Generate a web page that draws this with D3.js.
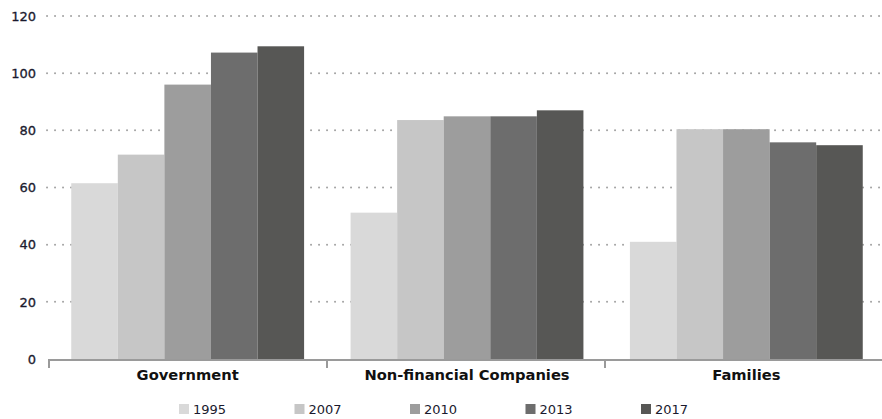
<!DOCTYPE html>
<html><head><meta charset="utf-8">
<script src="https://cdn.jsdelivr.net/npm/d3@7"></script>
<style>body{margin:0;background:#fff}svg{display:block;font-family:"DejaVu Sans",Verdana,sans-serif}</style>
</head><body><svg id="c" width="882" height="419"></svg>
<script>
const categories = ["Government", "Non-financial Companies", "Families"];
const years = ["1995", "2007", "2010", "2013", "2017"];
const colors = ["#d9d9d9", "#c6c6c6", "#9d9d9d", "#6d6d6d", "#575755"];
const v1995 = [61.5, 51.2, 41.0];
const v2007 = [71.5, 83.6, 80.4];
const v2010 = [96.0, 84.9, 80.4];
const v2013 = [107.2, 84.9, 75.8];
const v2017 = [109.4, 87.0, 74.8];
const yTicks = [0, 20, 40, 60, 80, 100, 120];
const series = [v1995, v2007, v2010, v2013, v2017];

(function () {
const svg = d3.select("#c");
const mL = 48, mR = 882, mT = 16, mB = 359;
const x0 = d3.scaleBand().domain(categories).range([48, 886]).paddingInner(0.1664).paddingOuter(0.0832);
const xOuter = d3.scaleBand().domain(categories).range([mL, mR]);
const x1 = d3.scaleBand().domain(years).range([0, x0.bandwidth()]);
const y = d3.scaleLinear().domain([0, 120]).range([mB, mT]);

// grid
svg.append("g").selectAll("line").data(yTicks.filter(d => d > 0)).join("line")
  .attr("x1", 47).attr("x2", 882).attr("y1", d => y(d)).attr("y2", d => y(d))
  .attr("stroke", "#a6a6a6").attr("stroke-width", 2).attr("stroke-dasharray", "0.1,7.9").attr("stroke-linecap", "round");

// y labels
svg.append("g").selectAll("text").data(yTicks).join("text")
  .attr("x", 36).attr("y", d => y(d)).attr("dy", "0.36em").attr("text-anchor", "end")
  .attr("font-size", 13).attr("fill", "#1a1a2e").attr("stroke", "#1a1a2e").attr("stroke-width", 0.3).text(d => d);

// bars
const g = svg.append("g");
categories.forEach((c, i) => {
  series.forEach((s, j) => {
    g.append("rect")
      .attr("x", x0(c) + x1(years[j])).attr("width", x1.bandwidth())
      .attr("y", y(s[i])).attr("height", y(0) - y(s[i]))
      .attr("fill", colors[j]);
  });
});

// x axis
const ax = svg.append("g").attr("stroke", "#9a9a9a").attr("stroke-width", 2);
ax.append("line").attr("x1", mL).attr("x2", mR).attr("y1", mB + 1).attr("y2", mB + 1);
const tickX = categories.map(c => xOuter(c));
ax.selectAll("line.t").data(tickX).join("line").attr("class", "t")
  .attr("x1", d => d + 1).attr("x2", d => d + 1).attr("y1", mB + 1).attr("y2", mB + 9);

svg.append("g").selectAll("text").data(categories).join("text")
  .attr("x", d => x0(d) + x0.bandwidth() / 2).attr("y", 380)
  .attr("text-anchor", "middle").attr("font-size", 14.7).attr("font-weight", "bold").attr("fill", "#111")
  .text(d => d);

// legend
const lg = svg.append("g");
years.forEach((yr, j) => {
  const lx = 179 + j * 115.5;
  lg.append("rect").attr("x", lx).attr("y", 404).attr("width", 10).attr("height", 10).attr("fill", colors[j]);
  lg.append("text").attr("x", lx + 14).attr("y", 414).attr("font-size", 13).attr("fill", "#1a1a2e").text(yr);
});
})();
</script></body></html>
